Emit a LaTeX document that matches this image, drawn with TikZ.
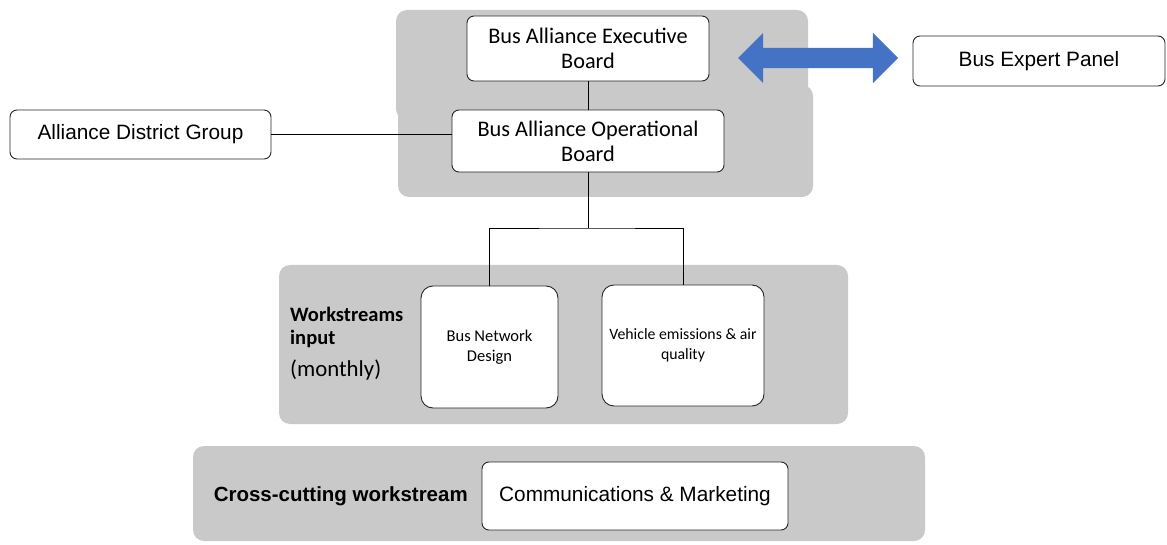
\documentclass[tikz,border=0pt]{standalone}
\usepackage{fontspec}
\setmainfont{Carlito}
\newfontfamily\arialfont{Liberation Sans}
\usetikzlibrary{shapes.arrows}

\definecolor{panelgrey}{RGB}{201,201,201}
\definecolor{arrowblue}{RGB}{68,114,196}

\tikzset{
	board/.style = {draw=black!85, fill=white, rounded corners=7pt, line width=0.9pt, align=center, inner sep=0pt},
	panel/.style = {fill=panelgrey, rounded corners=11pt},
}

\begin{document}
\begin{tikzpicture}[x = 1pt, y = -1pt]
	\useasboundingbox (0,0) rectangle (1167,545);
	% grey backgrounds
	\fill[panel] (396,10) rectangle (808,120);
	\fill[panel] (398,85) rectangle (813,197);
	\fill[panel] (279,265) rectangle (848,424);
	\fill[panel] (193,446) rectangle (925,541);
	% boards
	\node[board, minimum width = 242, minimum height = 65, font = \fontsize{22.3}{25}\selectfont] (exec) at (588,48.5) {Bus Alliance Executive\\Board};
	\node[board, minimum width = 272, minimum height = 62, font = \fontsize{22.3}{25}\selectfont] (op) at (588,141) {Bus Alliance Operational\\Board};
	\node[board, minimum width = 261, minimum height = 49, font = \arialfont\fontsize{20.8}{24}\selectfont] (district) at (140.5,134.5) {Alliance District Group};
	\node[board, minimum width = 252, minimum height = 50, font = \arialfont\fontsize{20.8}{24}\selectfont] (expert) at (1039,61) {Bus Expert Panel};
	\node[double arrow, fill = arrowblue, inner xsep = 0pt, inner ysep = 10pt, minimum height = 160, double arrow head extend = 15] (link) at (818,58) {};
	% workstreams
	\node[board, rounded corners = 12pt, minimum width = 137, minimum height = 122, font = \fontsize{16.5}{20}\selectfont] (bnd) at (489.5,347) {Bus Network\\Design};
	\node[board, rounded corners = 12pt, minimum width = 162, minimum height = 121, font = \fontsize{15.8}{20}\selectfont] (veh) at (683,345.5) {Vehicle emissions \& air\\quality};
	\node[anchor = west, align = left, inner sep = 0pt, font = \bfseries\fontsize{20.5}{23}\selectfont] (ws) at (290,327.5) {Workstreams\\input};
	\node[anchor = west, inner sep = 0pt, font = \fontsize{22.8}{26}\selectfont] (freq) at (290,370) {(monthly)};
	\node[board, minimum width = 306, minimum height = 68, font = \arialfont\fontsize{20.8}{24}\selectfont] (comms) at (635,496) {Communications \& Marketing};
	\node[anchor = east, inner sep = 0pt, font = \arialfont\bfseries\fontsize{20.5}{24}\selectfont] (cross) at (468,496) {Cross-cutting workstream};
	% connectors
	\coordinate (split) at (588,228);
	\draw[line width = 0.9pt] (exec) -- (op);
	\draw[line width = 0.9pt] (district.east) -- (district.east -| op.west);
	\draw[line width = 0.9pt] (op) -- (split);
	\draw[line width = 0.9pt] (bnd.north) |- (split) -| (veh.north);
\end{tikzpicture}
\end{document}
